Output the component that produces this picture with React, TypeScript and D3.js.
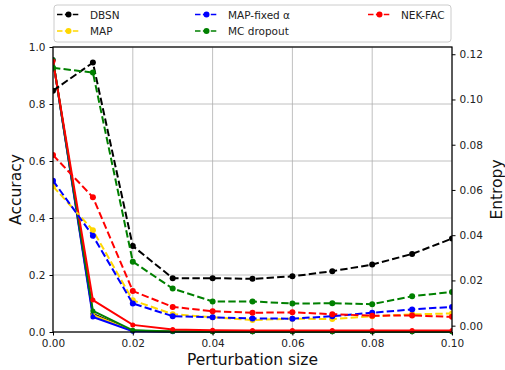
import { useEffect, useRef } from "react"
import * as d3 from "d3"

const perturbation = [0, 0.01, 0.02, 0.03, 0.04, 0.05, 0.06, 0.07, 0.08, 0.09, 0.1]
const methods = ["DBSN", "MAP", "MAP-fixed α", "MC dropout", "NEK-FAC"]
const colors = ["#000000", "#ffd700", "#0000ff", "#008000", "#ff0000"]

// accuracy (solid, left axis)
const accDBSN = [0.955, 0.063, 0.004, 0.002, 0.001, 0.001, 0.001, 0.001, 0.001, 0.001, 0.001]
const accMAP = [0.955, 0.06, 0.004, 0.002, 0.001, 0.001, 0.001, 0.001, 0.001, 0.001, 0.001]
const accMAPFixed = [0.955, 0.053, 0.003, 0.001, 0.001, 0.001, 0.001, 0.001, 0.001, 0.001, 0.001]
const accMC = [0.955, 0.074, 0.006, 0.002, 0.001, 0.001, 0.001, 0.001, 0.001, 0.001, 0.001]
const accNEK = [0.95, 0.112, 0.025, 0.009, 0.006, 0.005, 0.005, 0.005, 0.005, 0.005, 0.005]

// entropy (dashed, right axis)
const entDBSN = [0.1039, 0.1163, 0.0352, 0.021, 0.021, 0.0207, 0.0218, 0.0241, 0.027, 0.0317, 0.0385]
const entMAP = [0.0616, 0.0422, 0.0112, 0.0051, 0.0037, 0.0025, 0.0031, 0.0029, 0.0042, 0.005, 0.0054]
const entMAPFixed = [0.0641, 0.0397, 0.0098, 0.0042, 0.0037, 0.0032, 0.0031, 0.0042, 0.0057, 0.0072, 0.0083]
const entMC = [0.114, 0.1119, 0.0283, 0.0164, 0.0107, 0.0107, 0.0098, 0.0099, 0.0095, 0.013, 0.0149]
const entNEK = [0.0754, 0.0568, 0.0153, 0.0083, 0.0064, 0.0057, 0.0059, 0.0051, 0.0044, 0.0045, 0.0039]

const accuracy = [accDBSN, accMAP, accMAPFixed, accMC, accNEK]
const entropy = [entDBSN, entMAP, entMAPFixed, entMC, entNEK]

const xTicks = [0, 0.02, 0.04, 0.06, 0.08, 0.1]
const accTicks = [0, 0.2, 0.4, 0.6, 0.8, 1.0]
const entTicks = [0, 0.02, 0.04, 0.06, 0.08, 0.1, 0.12]

export default function App() {
  const svgRef = useRef<SVGSVGElement>(null)

  useEffect(() => {
    if (!svgRef.current) return
    const width = 505
    const height = 370
    const left = 53
    const right = 452
    const top = 47
    const bottom = 332
    const font = "DejaVu Sans, sans-serif"

    const svg = d3.select(svgRef.current)
    svg.selectAll("*").remove()
    svg.attr("width", width).attr("height", height)

    const x = d3.scaleLinear().domain([0, 0.1]).range([left, right])
    const yAcc = d3.scaleLinear().domain([0, 1]).range([bottom, top])
    const yEnt = d3.scaleLinear().domain([-0.0028, 0.1232]).range([bottom, top])

    svg.append("rect").attr("width", width).attr("height", height).attr("fill", "#fff")

    // grid
    const grid = svg.append("g").attr("stroke", "#b0b0b0").attr("stroke-width", 0.8)
    xTicks.forEach((t) => {
      grid.append("line").attr("x1", x(t)).attr("x2", x(t)).attr("y1", top).attr("y2", bottom)
    })
    accTicks.forEach((t) => {
      grid.append("line").attr("x1", left).attr("x2", right).attr("y1", yAcc(t)).attr("y2", yAcc(t))
    })

    const clip = svg.append("clipPath").attr("id", "plotclip")
    clip.append("rect").attr("x", left).attr("y", top - 4).attr("width", right - left).attr("height", bottom - top + 8)
    const plot = svg.append("g").attr("clip-path", "url(#plotclip)")

    // accuracy: solid
    accuracy.forEach((vals, i) => {
      const line = d3
        .line<number>()
        .x((_, j) => x(perturbation[j]))
        .y((d) => yAcc(d))
      plot
        .append("path")
        .attr("d", line(vals))
        .attr("fill", "none")
        .attr("stroke", colors[i])
        .attr("stroke-width", 2)
      plot
        .selectAll(null)
        .data(vals)
        .join("circle")
        .attr("cx", (_, j) => x(perturbation[j]))
        .attr("cy", (d) => yAcc(d))
        .attr("r", 2.5)
        .attr("fill", colors[i])
    })

    // entropy: dashed
    entropy.forEach((vals, i) => {
      const line = d3
        .line<number>()
        .x((_, j) => x(perturbation[j]))
        .y((d) => yEnt(d))
      plot
        .append("path")
        .attr("d", line(vals))
        .attr("fill", "none")
        .attr("stroke", colors[i])
        .attr("stroke-width", 2)
        .attr("stroke-dasharray", "7.4,3.2")
      plot
        .selectAll(null)
        .data(vals)
        .join("circle")
        .attr("cx", (_, j) => x(perturbation[j]))
        .attr("cy", (d) => yEnt(d))
        .attr("r", 3)
        .attr("fill", colors[i])
    })

    // spines
    svg
      .append("rect")
      .attr("x", left)
      .attr("y", top)
      .attr("width", right - left)
      .attr("height", bottom - top)
      .attr("fill", "none")
      .attr("stroke", "#000")
      .attr("stroke-width", 1.2)

    const styleAxis = (g: d3.Selection<SVGGElement, unknown, null, undefined>) => {
      g.select(".domain").remove()
      g.selectAll(".tick line").attr("stroke", "#000").attr("stroke-width", 1)
      g.selectAll(".tick text").attr("fill", "#222").attr("font-size", "10.5px").attr("font-family", font)
    }

    svg
      .append("g")
      .attr("transform", `translate(0,${bottom})`)
      .call(d3.axisBottom(x).tickValues(xTicks).tickFormat(d3.format(".2f")).tickSize(3.5).tickPadding(4))
      .call(styleAxis)

    svg
      .append("g")
      .attr("transform", `translate(${left},0)`)
      .call(d3.axisLeft(yAcc).tickValues(accTicks).tickFormat(d3.format(".1f")).tickSize(3.5).tickPadding(4))
      .call(styleAxis)

    svg
      .append("g")
      .attr("transform", `translate(${right},0)`)
      .call(d3.axisRight(yEnt).tickValues(entTicks).tickFormat(d3.format(".2f")).tickSize(3.5).tickPadding(4))
      .call(styleAxis)

    // axis labels
    svg
      .append("text")
      .attr("x", (left + right) / 2)
      .attr("y", 365)
      .attr("text-anchor", "middle")
      .attr("font-family", font)
      .attr("font-size", "15.5px")
      .attr("fill", "#111")
      .text("Perturbation size")

    svg
      .append("text")
      .attr("transform", `translate(21,${(top + bottom) / 2}) rotate(-90)`)
      .attr("text-anchor", "middle")
      .attr("font-family", font)
      .attr("font-size", "15.5px")
      .attr("fill", "#111")
      .text("Accuracy")

    svg
      .append("text")
      .attr("transform", `translate(502,${(top + bottom) / 2}) rotate(-90)`)
      .attr("text-anchor", "middle")
      .attr("font-family", font)
      .attr("font-size", "15.5px")
      .attr("fill", "#111")
      .text("Entropy")

    // legend
    const legend = svg.append("g")
    legend
      .append("rect")
      .attr("x", left + 1)
      .attr("y", 5)
      .attr("width", right - left - 2)
      .attr("height", 37)
      .attr("rx", 3)
      .attr("fill", "#fff")
      .attr("fill-opacity", 0.8)
      .attr("stroke", "#cccccc")
      .attr("stroke-width", 1)

    const colX = [57, 195, 368]
    const rowY = [14.5, 31]
    const slots = [
      [0, 0],
      [0, 1],
      [1, 0],
      [1, 1],
      [2, 0],
    ]
    methods.forEach((m, i) => {
      const [c, r] = slots[i]
      const lx = colX[c]
      const ly = rowY[r]
      legend
        .append("line")
        .attr("x1", lx)
        .attr("x2", lx + 23)
        .attr("y1", ly)
        .attr("y2", ly)
        .attr("stroke", colors[i])
        .attr("stroke-width", 1.5)
        .attr("stroke-dasharray", "5.5,2.4")
      legend.append("circle").attr("cx", lx + 11.5).attr("cy", ly).attr("r", 3).attr("fill", colors[i])
      legend
        .append("text")
        .attr("x", lx + 33)
        .attr("y", ly + 4)
        .attr("font-family", font)
        .attr("font-size", "10.5px")
        .attr("fill", "#222")
        .text(m)
    })
  }, [])

  return <svg ref={svgRef} style={{ position: "absolute", left: 0, top: 0 }}></svg>
}
